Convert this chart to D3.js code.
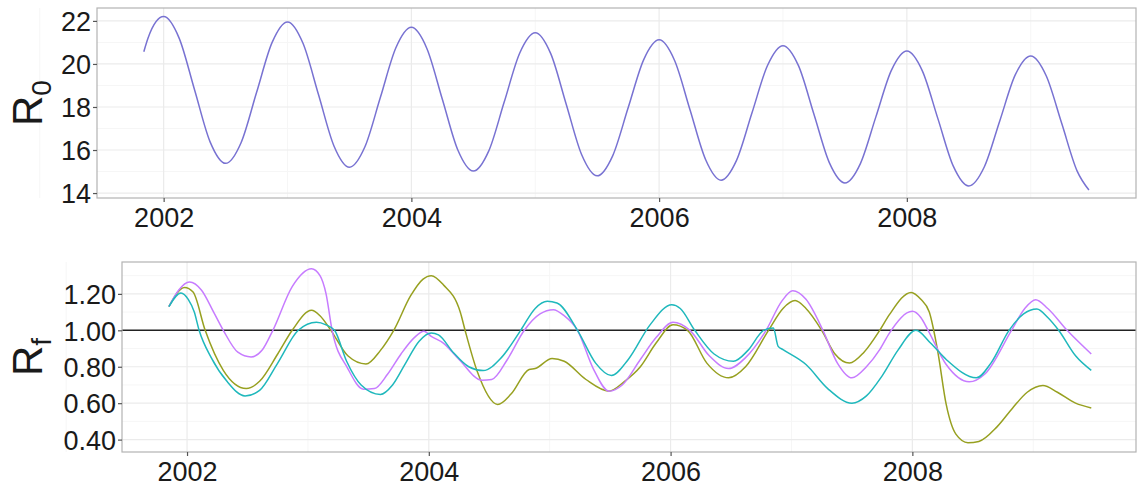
<!DOCTYPE html>
<html>
<head>
<meta charset="utf-8">
<script src="https://cdn.jsdelivr.net/npm/d3@7"></script>
<style>
  body { margin: 0; background: #fff; }
  svg { display: block; font-family: "Liberation Sans", Arial, sans-serif; }
</style>
</head>
<body>
<svg width="1139" height="489"></svg>
<script>
// ---- data (decimal year, value) ----
let r0Series = [
  [2001.84, 20.57], [2001.875, 21.22], [2002.0, 22.2], [2002.125, 21.2], [2002.25, 18.79],
  [2002.375, 16.38], [2002.5, 15.38], [2002.625, 16.34], [2002.75, 18.67], [2002.875, 20.99],
  [2003.0, 21.95], [2003.125, 20.96], [2003.25, 18.58], [2003.375, 16.19], [2003.5, 15.2],
  [2003.625, 16.15], [2003.75, 18.45], [2003.875, 20.75], [2004.0, 21.7], [2004.125, 20.72],
  [2004.25, 18.36], [2004.375, 16.0], [2004.5, 15.02], [2004.625, 15.96], [2004.75, 18.24],
  [2004.875, 20.51], [2005.0, 21.45], [2005.125, 20.48], [2005.25, 18.13], [2005.375, 15.78],
  [2005.5, 14.8], [2005.625, 15.73], [2005.75, 17.96], [2005.875, 20.19], [2006.0, 21.12],
  [2006.125, 20.16], [2006.25, 17.86], [2006.375, 15.56], [2006.5, 14.6], [2006.625, 15.52],
  [2006.75, 17.73], [2006.875, 19.93], [2007.0, 20.85], [2007.125, 19.92], [2007.25, 17.66],
  [2007.375, 15.4], [2007.5, 14.47], [2007.625, 15.37], [2007.75, 17.54], [2007.875, 19.7],
  [2008.0, 20.6], [2008.125, 19.68], [2008.25, 17.47], [2008.375, 15.25], [2008.5, 14.33],
  [2008.625, 15.21], [2008.75, 17.35], [2008.875, 19.49], [2009.0, 20.37], [2009.125, 19.45],
  [2009.25, 17.24], [2009.375, 15.02], [2009.47, 14.14]
];

let rfViolet = [
  [2001.85, 1.13], [2001.93, 1.22], [2002.02, 1.265], [2002.12, 1.22], [2002.22, 1.10],
  [2002.30, 1.00], [2002.42, 0.88], [2002.53, 0.854], [2002.62, 0.89], [2002.71, 1.00],
  [2002.87, 1.24], [2003.03, 1.338], [2003.10, 1.30], [2003.15, 1.20], [2003.20, 1.00],
  [2003.33, 0.79], [2003.46, 0.677], [2003.55, 0.68], [2003.66, 0.76], [2003.77, 0.87],
  [2003.88, 0.96], [2003.96, 0.995], [2004.02, 0.967], [2004.12, 0.93], [2004.25, 0.84],
  [2004.44, 0.726], [2004.52, 0.73], [2004.65, 0.84], [2004.79, 1.00], [2004.92, 1.09],
  [2005.03, 1.113], [2005.12, 1.08], [2005.23, 1.00], [2005.36, 0.79], [2005.49, 0.666],
  [2005.60, 0.70], [2005.75, 0.84], [2005.88, 0.96], [2006.02, 1.044], [2006.16, 1.00],
  [2006.32, 0.86], [2006.48, 0.79], [2006.62, 0.85], [2006.79, 1.00], [2006.92, 1.16],
  [2007.01, 1.217], [2007.12, 1.17], [2007.26, 1.00], [2007.38, 0.82], [2007.50, 0.739],
  [2007.62, 0.80], [2007.73, 0.894], [2007.81, 0.985], [2008.00, 1.104], [2008.07, 1.07],
  [2008.13, 1.00], [2008.28, 0.812], [2008.47, 0.717], [2008.60, 0.76], [2008.82, 1.00],
  [2008.93, 1.12], [2009.02, 1.168], [2009.12, 1.12], [2009.28, 1.00], [2009.48, 0.87]
];

let rfCyan = [
  [2001.85, 1.13], [2001.95, 1.205], [2002.01, 1.17], [2002.06, 1.10], [2002.10, 1.00],
  [2002.20, 0.85], [2002.33, 0.72], [2002.48, 0.64], [2002.60, 0.67], [2002.75, 0.82],
  [2002.92, 1.00], [2003.07, 1.044], [2003.15, 1.03], [2003.22, 1.00], [2003.32, 0.83],
  [2003.44, 0.70], [2003.60, 0.648], [2003.70, 0.70], [2003.80, 0.81], [2003.92, 0.94],
  [2004.02, 0.985], [2004.08, 0.975], [2004.20, 0.88], [2004.33, 0.80], [2004.45, 0.779],
  [2004.60, 0.85], [2004.76, 1.00], [2004.88, 1.12], [2004.98, 1.159], [2005.06, 1.15],
  [2005.23, 1.00], [2005.38, 0.82], [2005.51, 0.752], [2005.65, 0.84], [2005.83, 1.03],
  [2006.01, 1.14], [2006.08, 1.12], [2006.20, 1.00], [2006.36, 0.87], [2006.52, 0.83],
  [2006.64, 0.89], [2006.77, 1.00], [2006.85, 1.013], [2006.89, 0.912], [2006.93, 0.894],
  [2007.12, 0.812], [2007.30, 0.68], [2007.50, 0.60], [2007.62, 0.64], [2007.75, 0.75],
  [2007.88, 0.89], [2008.03, 1.00], [2008.15, 0.93], [2008.28, 0.84], [2008.53, 0.739],
  [2008.65, 0.82], [2008.80, 1.00], [2008.92, 1.09], [2009.03, 1.117], [2009.12, 1.07],
  [2009.21, 1.00], [2009.35, 0.86], [2009.48, 0.78]
];

let rfOlive = [
  [2001.85, 1.13], [2001.98, 1.235], [2002.05, 1.21], [2002.15, 1.00], [2002.30, 0.78],
  [2002.49, 0.68], [2002.60, 0.72], [2002.75, 0.87], [2002.87, 1.00], [2003.03, 1.11],
  [2003.10, 1.08], [2003.19, 1.00], [2003.33, 0.86], [2003.48, 0.815], [2003.60, 0.89],
  [2003.71, 1.00], [2003.85, 1.19], [2003.95, 1.28], [2004.02, 1.30], [2004.12, 1.25],
  [2004.26, 1.10], [2004.30, 1.00], [2004.40, 0.775], [2004.57, 0.593], [2004.68, 0.65],
  [2004.83, 0.785], [2004.88, 0.79], [2005.02, 0.845], [2005.12, 0.83], [2005.30, 0.73],
  [2005.49, 0.666], [2005.62, 0.72], [2005.75, 0.80], [2005.88, 0.93], [2006.02, 1.03],
  [2006.14, 1.00], [2006.30, 0.82], [2006.48, 0.739], [2006.62, 0.80], [2006.81, 1.00],
  [2006.93, 1.12], [2007.03, 1.163], [2007.12, 1.12], [2007.25, 1.00], [2007.36, 0.87],
  [2007.48, 0.82], [2007.60, 0.88], [2007.73, 1.00], [2007.81, 1.086], [2007.99, 1.208],
  [2008.07, 1.17], [2008.14, 1.10], [2008.21, 0.885], [2008.28, 0.593], [2008.36, 0.43],
  [2008.46, 0.383], [2008.55, 0.39], [2008.70, 0.47], [2008.83, 0.574], [2008.95, 0.66],
  [2009.08, 0.697], [2009.20, 0.66], [2009.35, 0.60], [2009.48, 0.574]
];

let xTicks = [2002, 2004, 2006, 2008];
let xMinor = [2001, 2003, 2005, 2007, 2009];
let r0Ticks = [14, 16, 18, 20, 22];
let r0Minor = [15, 17, 19, 21];
let rfTicks = [0.4, 0.6, 0.8, 1.0, 1.2];
let rfMinor = [0.5, 0.7, 0.9, 1.1, 1.3];
let refLine = 1.0;

let svg = d3.select('svg');

// one ggplot-like panel
function drawPanel(opt) {
  let x = d3.scaleLinear().domain([2001.462, 2009.85]).range([opt.left, opt.right]);
  let y = d3.scaleLinear().domain(opt.yDomain).range([opt.bottom, opt.top]);
  let g = svg.append('g');

  // grid
  g.selectAll('.hmin').data(opt.yMinor).enter().append('line')
    .attr('x1', opt.left).attr('x2', opt.right)
    .attr('y1', d => y(d)).attr('y2', d => y(d))
    .attr('stroke', '#f6f6f6').attr('stroke-width', 1);
  g.selectAll('.vmin').data(xMinor).enter().append('line')
    .attr('y1', opt.top).attr('y2', opt.bottom)
    .attr('x1', d => x(d)).attr('x2', d => x(d))
    .attr('stroke', '#f6f6f6').attr('stroke-width', 1);
  g.selectAll('.hmaj').data(opt.yTicks).enter().append('line')
    .attr('x1', opt.left).attr('x2', opt.right)
    .attr('y1', d => y(d)).attr('y2', d => y(d))
    .attr('stroke', '#ebebeb').attr('stroke-width', 1.2);
  g.selectAll('.vmaj').data(xTicks).enter().append('line')
    .attr('y1', opt.top).attr('y2', opt.bottom)
    .attr('x1', d => x(d)).attr('x2', d => x(d))
    .attr('stroke', '#ebebeb').attr('stroke-width', 1.2);

  if (opt.hline != null) {
    g.append('line')
      .attr('x1', opt.left).attr('x2', opt.right)
      .attr('y1', y(opt.hline)).attr('y2', y(opt.hline))
      .attr('stroke', '#222').attr('stroke-width', 1.4);
  }

  let line = d3.line()
    .x(d => x(d[0]))
    .y(d => y(d[1]))
    .curve(d3.curveMonotoneX);

  opt.series.forEach(s => {
    g.append('path')
      .datum(s.data)
      .attr('fill', 'none')
      .attr('stroke', s.color)
      .attr('stroke-width', 1.5)
      .attr('d', line);
  });

  // border
  g.append('rect')
    .attr('x', opt.left).attr('y', opt.top)
    .attr('width', opt.right - opt.left).attr('height', opt.bottom - opt.top)
    .attr('fill', 'none').attr('stroke', '#b3b3b3').attr('stroke-width', 1.2);

  // axes
  let xAxis = d3.axisBottom(x).tickValues(xTicks).tickFormat(d3.format('d'))
    .tickSize(4).tickPadding(4);
  let ax = g.append('g').attr('transform', 'translate(0,' + opt.bottom + ')').call(xAxis);
  let yAxis = d3.axisLeft(y).tickValues(opt.yTicks).tickFormat(opt.yFormat)
    .tickSize(4).tickPadding(2);
  let ay = g.append('g').attr('transform', 'translate(' + opt.left + ',0)').call(yAxis);
  [ax, ay].forEach(a => {
    a.select('.domain').remove();
    a.selectAll('.tick line').attr('stroke', '#555').attr('stroke-width', 1.2);
    a.selectAll('.tick text').attr('fill', '#1a1a1a').attr('font-size', 27)
      .attr('font-family', '"Liberation Sans", Arial, sans-serif');
  });
  ax.selectAll('.tick text').attr('dy', '0.78em');
  ay.selectAll('.tick text').attr('dy', '0.36em');

  // y title with subscript
  let mid = (opt.top + opt.bottom) / 2;
  let t = g.append('text')
    .attr('transform', 'translate(' + opt.titleX + ',' + mid + ') rotate(-90)')
    .attr('text-anchor', 'middle')
    .attr('fill', '#1a1a1a')
    .attr('font-size', 42);
  t.append('tspan').text('R');
  t.append('tspan').attr('font-size', 28).attr('dy', 9).text(opt.sub);
}

drawPanel({
  left: 97, right: 1136, top: 8, bottom: 198,
  yDomain: [13.77, 22.6], yTicks: r0Ticks, yMinor: r0Minor,
  yFormat: d3.format('d'),
  titleX: 42, sub: '0',
  series: [{ data: r0Series, color: '#7872d2' }]
});

drawPanel({
  left: 122, right: 1136, top: 262, bottom: 452,
  yDomain: [0.332, 1.375], yTicks: rfTicks, yMinor: rfMinor,
  yFormat: d3.format('.2f'),
  titleX: 42, sub: 'f', hline: refLine,
  series: [
    { data: rfOlive, color: '#97a020' },
    { data: rfViolet, color: '#c77cff' },
    { data: rfCyan, color: '#1fb8bc' }
  ]
});
</script>
</body>
</html>
